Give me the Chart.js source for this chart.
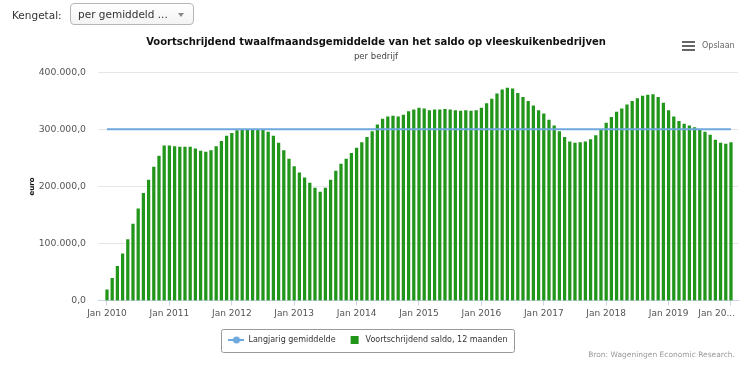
<!DOCTYPE html>
<html>
<head>
<meta charset="utf-8">
<script src="https://cdn.jsdelivr.net/npm/chart.js@4.4.1/dist/chart.umd.min.js"></script>
<style>
body { margin: 0; background: #fff; font-family: "DejaVu Sans", Verdana, sans-serif; }
#wrap { position: relative; width: 750px; height: 366px; overflow: hidden; }
#grafiek { position: absolute; left: 0; top: 0; }
.kengetal { position: absolute; left: 12px; top: 9px; font-size: 10.5px; color: #333; }
.keuze { position: absolute; left: 70px; top: 3px; width: 124px; height: 22px; box-sizing: border-box;
  border: 1px solid #b5b5b5; border-radius: 4px; background: linear-gradient(#fff, #f3f3f3);
  font-size: 10.5px; color: #333; padding: 4px 0 0 7px; }
.keuze .pijl { position: absolute; right: 9px; top: 9px; width: 0; height: 0;
  border-left: 3px solid transparent; border-right: 3px solid transparent; border-top: 4px solid #888; }
.opslaan { position: absolute; left: 682px; top: 41px; font-size: 8px; color: #666; }
.opslaan .menu { position: absolute; left: 0; top: 0; width: 13px; }
.opslaan .menu div { height: 2px; background: #666; margin-bottom: 2px; }
.opslaan span { position: absolute; left: 20px; top: 0; white-space: nowrap; }
.bron { position: absolute; right: 15px; top: 350px; font-size: 7.5px; color: #999; }
</style>
</head>
<body>
<div id="wrap">
  <canvas id="grafiek" width="750" height="366"></canvas>
  <div class="kengetal">Kengetal:</div>
  <div class="keuze">per gemiddeld ...<div class="pijl"></div></div>
  <div class="opslaan"><div class="menu"><div></div><div></div><div></div></div><span>Opslaan</span></div>
  <div class="bron">Bron: Wageningen Economic Research.</div>
</div>
<script>
/*
Data: voortschrijdend saldo per maand, jan 2010 t/m jan 2020
*/
const saldo = [
  19000, 39000, 60000, 82000, 107000, 134000, 161000, 188000, 211000, 234000, 253000, 271000,
  271000, 270000, 269000, 269000, 269000, 266000, 262000, 260000, 263000, 270000, 279000, 288000,
  293000, 298000, 300000, 300000, 300000, 300000, 300000, 295000, 288000, 276000, 263000, 248000,
  235000, 224000, 215000, 206000, 197000, 190000, 197000, 211000, 227000, 239000, 248000, 258000,
  267000, 277000, 286000, 296000, 308000, 318000, 322000, 323000, 322000, 325000, 331000, 334000,
  337000, 336000, 333000, 334000, 334000, 335000, 334000, 333000, 332000, 333000, 332000, 333000,
  337000, 345000, 353000, 362000, 369000, 372000, 371000, 363000, 356000, 349000, 341000, 333000,
  327000, 316000, 306000, 296000, 286000, 278000, 276000, 277000, 278000, 282000, 289000, 299000,
  311000, 321000, 330000, 336000, 343000, 349000, 354000, 358000, 360000, 361000, 356000, 346000,
  333000, 322000, 314000, 309000, 306000, 303000, 299000, 295000, 290000, 281000, 276000, 274000,
  277000
];
const gemiddelde = [300000, 300000];
const gemiddeldeMaanden = [0, 120];
const tickMaanden = [0, 12, 24, 36, 48, 60, 72, 84, 96, 108, 120];
const tickLabels = ["Jan 2010", "Jan 2011", "Jan 2012", "Jan 2013", "Jan 2014", "Jan 2015",
  "Jan 2016", "Jan 2017", "Jan 2018", "Jan 2019", "Jan 20..."];
const yTicks = [0, 100000, 200000, 300000, 400000];

const lijnKleur = "#6ea8dd";
const balkKleur = "#22961a";
const lettertype = "'DejaVu Sans', Verdana, sans-serif";

function euro(v) {
    const s = Math.round(v).toString().replace(/\B(?=(\d{3})+(?!\d))/g, ".");
    return s + ",0";
}

// last x label is pushed left so it stays inside the chart (trailing spaces)
function xLabel(v) {
    const i = tickMaanden.indexOf(v);
    if (i == tickLabels.length - 1) return tickLabels[i] + "          ";
    return tickLabels[i];
}

/*
Legend icons
*/
function lijnIcoon() {
    const c = document.createElement("canvas");
    c.width = 16; c.height = 10;
    const g = c.getContext("2d");
    g.strokeStyle = lijnKleur; g.lineWidth = 2;
    g.beginPath(); g.moveTo(0, 5); g.lineTo(16, 5); g.stroke();
    g.fillStyle = lijnKleur;
    g.beginPath(); g.arc(8, 5, 3.5, 0, Math.PI * 2); g.fill();
    return c;
}

function vierkantIcoon() {
    const c = document.createElement("canvas");
    c.width = 16; c.height = 10;
    const g = c.getContext("2d");
    g.fillStyle = balkKleur;
    g.fillRect(5, 1, 8, 8);
    return c;
}

// legend sits a bit left of the page centre, with a border round it
const legendaRand = {
    id: "legendaRand",
    afterLayout(chart) {
        chart.legend.left -= 8;
        chart.legend.right -= 8;
    },
    afterDraw(chart) {
        const hb = chart.legend.legendHitBoxes;
        if (!hb || !hb.length) return;
        const x0 = Math.min(...hb.map(b => b.left)) - 7;
        const x1 = Math.max(...hb.map(b => b.left + b.width)) + 7;
        const y0 = hb[0].top - 7.5;
        const y1 = hb[0].top + hb[0].height + 7.5;
        const ctx = chart.ctx;
        ctx.save();
        ctx.strokeStyle = "#999";
        ctx.lineWidth = 1;
        ctx.beginPath();
        ctx.roundRect(Math.round(x0) + 0.5, Math.round(y0) + 0.5, Math.round(x1 - x0), Math.round(y1 - y0), 2);
        ctx.stroke();
        ctx.restore();
    }
};

const ctx = document.getElementById("grafiek").getContext("2d");
const icons = [lijnIcoon(), vierkantIcoon()];

new Chart(ctx, {
    type: "bar",
    data: {
        datasets: [
            {
                type: "line",
                label: "Langjarig gemiddelde",
                data: gemiddelde.map((v, i) => ({ x: gemiddeldeMaanden[i], y: v })),
                borderColor: lijnKleur,
                backgroundColor: lijnKleur,
                borderWidth: 2,
                pointRadius: 0,
                order: 0
            },
            {
                type: "bar",
                label: "Voortschrijdend saldo, 12 maanden",
                data: saldo.map((v, i) => ({ x: i, y: v })),
                backgroundColor: balkKleur,
                barThickness: 2.6,
                order: 1
            }
        ]
    },
    options: {
        responsive: false,
        animation: false,
        devicePixelRatio: 1,
        layout: { padding: { left: 14, right: 12, top: 0, bottom: 12 } },
        plugins: {
            title: {
                display: true,
                text: "Voortschrijdend twaalfmaandsgemiddelde van het saldo op vleeskuikenbedrijven",
                color: "#111",
                font: { family: lettertype, size: 10, weight: "bold" },
                padding: { top: 36, bottom: 4 }
            },
            subtitle: {
                display: true,
                text: "per bedrijf",
                color: "#444",
                font: { family: lettertype, size: 8.5 },
                padding: { top: 0, bottom: 10 }
            },
            legend: {
                position: "bottom",
                labels: {
                    usePointStyle: true,
                    pointStyleWidth: 16,
                    color: "#333",
                    padding: 10,
                    font: { family: lettertype, size: 8 },
                    generateLabels(chart) {
                        const items = Chart.defaults.plugins.legend.labels.generateLabels(chart);
                        items.forEach((it, i) => { it.pointStyle = icons[i]; });
                        return items;
                    }
                }
            },
            tooltip: { enabled: false }
        },
        scales: {
            x: {
                type: "linear",
                offset: false,
                min: -1.73,
                max: 121.35,
                afterBuildTicks: (scale) => { scale.ticks = tickMaanden.map(v => ({ value: v })); },
                afterFit: (scale) => {
                    scale.height += 3.5;
                    scale.paddingLeft = 0;
                    scale.paddingRight = 0;
                },
                ticks: {
                    autoSkip: false,
                    maxRotation: 0,
                    color: "#555",
                    padding: 3,
                    font: { family: lettertype, size: 9 },
                    callback: (v) => xLabel(v)
                },
                grid: { offset: false, drawOnChartArea: false, drawTicks: true, tickLength: 5, color: "#ccd6eb" },
                border: { color: "#ccd6eb" }
            },
            y: {
                min: 0,
                max: 400000,
                afterBuildTicks: (scale) => { scale.ticks = yTicks.map(v => ({ value: v })); },
                afterFit: (scale) => { scale.width = 84; },
                ticks: {
                    color: "#555",
                    padding: 12,
                    font: { family: lettertype, size: 9.3 },
                    callback: (v) => euro(v)
                },
                grid: { color: "#e6e6e6", drawTicks: false },
                border: { display: false },
                title: {
                    display: true,
                    text: "euro",
                    color: "#111",
                    font: { family: lettertype, size: 7, weight: "bold" },
                    padding: { top: 14, bottom: 0 }
                }
            }
        }
    },
    plugins: [legendaRand]
});
</script>
</body>
</html>
